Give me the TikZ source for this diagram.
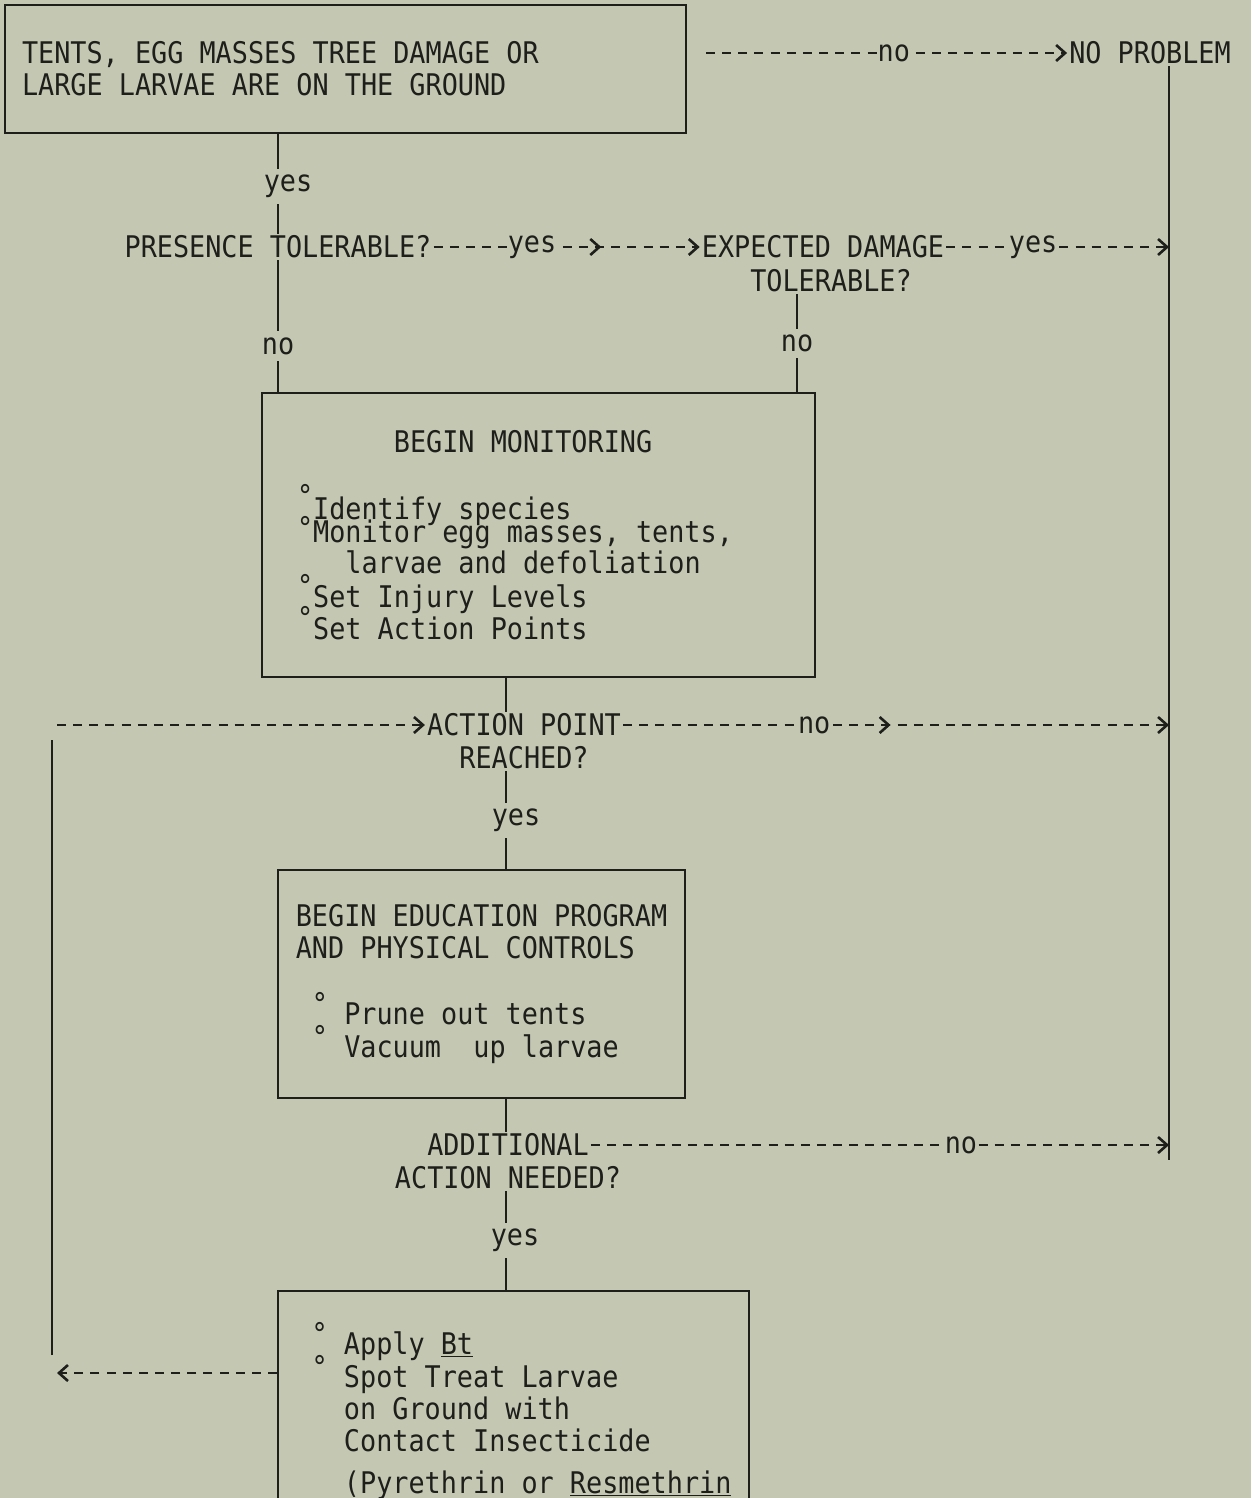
\documentclass[tikz,border=0pt]{standalone}
\usepackage{fontspec}
\setmainfont[FakeStretch=0.9]{DejaVu Sans Mono}
\usetikzlibrary{arrows.meta, positioning, decorations.markings}

\definecolor{paper}{RGB}{196,200,179}
\definecolor{ink}{RGB}{30,30,26}

\newcommand\typefont{\fontsize{29.8}{32}\selectfont}
\newcommand\blt[1]{\smash{\raisebox{#1}{°}}}

\tikzset{
  box/.style={draw=ink, line width=2pt, inner ysep=0pt, font=\typefont},
  dec/.style={inner sep=2pt, font=\typefont},
  lbl/.style={fill=paper, inner xsep=1pt, inner ysep=6pt, font=\typefont},
  link/.style={line width=2pt},
  dashlink/.style={line width=2.6pt, dash pattern=on 9pt off 7.15pt},
  midarrow/.style={postaction={decorate, decoration={markings,
      mark=at position #1 with {\arrow{>}}}}}
}

\begin{document}
\begin{tikzpicture}[x=1pt, y=-1pt, color=ink,
    >={Straight Barb[length=9pt, width=16pt]}]
  \useasboundingbox (0,0) rectangle (1251,1498);
  \clip (0,0) rectangle (1251,1498);
  \fill[paper] (0,0) rectangle (1251,1498);

  % columns of the long vertical lines
  \coordinate (colB) at (797,0);
  \coordinate (colC) at (506,0);
  \coordinate (colR) at (1169,0);
  \coordinate (rbot) at (1169,1160);
  \coordinate (lbot) at (52,1355);
  \coordinate (ltop) at (52,740);
  \coordinate (lin) at (57,725);
  \coordinate (backtip) at (57,1373);

  % Boxes
  \node[box, text width=647pt, inner xsep=17pt, minimum height=128pt,
        align=flush left] (tents) at (345.5,69)
    {TENTS, EGG MASSES TREE DAMAGE OR\\LARGE LARVAE ARE ON THE GROUND};
  \node[box, text width=483pt, inner xsep=35pt, minimum height=284pt,
        align=flush left] (monitor) at (538.5,535)
    {~~~~~~BEGIN MONITORING\\[35pt]
     \blt{13pt}Identify species\\[-9pt]
     \blt{4pt}Monitor egg masses, tents,\\[-1pt]
     ~~~larvae and defoliation\\[2pt]
     \blt{11pt}Set Injury Levels\\
     \blt{11pt}Set Action Points};
  \node[box, minimum width=407pt, minimum height=228pt, align=left]
    (educ) at (481.5,984)
    {BEGIN EDUCATION PROGRAM\\
     AND PHYSICAL CONTROLS\\[34pt]
     ~\blt{10pt}~Prune out tents\\[1pt]
     ~\blt{10pt}~Vacuum~~up larvae};
  \node[box, minimum width=471pt, minimum height=250pt, align=left,
        anchor=north] (treat) at (513.5,1290)
    {~\blt{10pt}~Apply \underline{Bt}\\[1pt]
     ~\blt{10pt}~Spot Treat Larvae\\
     ~~~on Ground with\\
     ~~~Contact Insecticide\\[10pt]
     ~~~(Pyrethrin or \underline{Resmethrin}};

  % Questions
  \node[dec] (noprob) at (1150,53) {NO PROBLEM};
  \node[dec] (presence) at (278,247) {PRESENCE TOLERABLE?};
  \node[dec] (expected) at (823,247) {EXPECTED DAMAGE};
  \node[dec, below=7pt of expected, xshift=8pt] (expected2) {TOLERABLE?};
  \node[dec] (actpt) at (524,725) {ACTION POINT};
  \node[dec, below=6pt of actpt] (actpt2) {REACHED?};
  \node[dec] (addl) at (508,1145) {ADDITIONAL};
  \node[dec, below=6pt of addl] (addl2) {ACTION NEEDED?};

  % Solid connectors
  \draw[link] (tents.south -| presence.north) -- node[lbl, pos=0.53, xshift=10pt] {yes} (presence.north);
  \draw[link] (presence.south) -- node[lbl, pos=0.65] {no} (presence.south |- monitor.north);
  \draw[link] (expected2.south -| colB) -- node[lbl] {no} (monitor.north -| colB);
  \draw[link] (monitor.south -| colC) -- (actpt.north -| colC);
  \draw[link] (actpt2.south -| colC) -- node[lbl, xshift=10pt] {yes} (educ.north -| colC);
  \draw[link] (educ.south -| colC) -- (addl.north -| colC);
  \draw[link] (addl2.south -| colC) -- node[lbl, xshift=9pt] {yes} (treat.north -| colC);
  \draw[link] (noprob.south -| colR) -- (rbot);
  \draw[link] (lbot) -- (ltop);

  % Dashed connectors
  \draw[dashlink, ->] ([xshift=19pt]tents.east |- noprob.west) -- node[lbl, pos=0.52] {no} (noprob.west);
  \draw[dashlink, ->, midarrow=0.63] (presence.east) -- node[lbl, pos=0.37] {yes} (expected.west);
  \draw[dashlink, ->] (expected.east) -- node[lbl, pos=0.39] {yes} (expected.east -| colR);
  \draw[dashlink, ->, midarrow=0.49] (actpt.east) -- node[lbl, pos=0.35] {no} (actpt.east -| colR);
  \draw[dashlink, ->] (addl.east) -- node[lbl, pos=0.64] {no} (addl.east -| colR);
  \draw[dashlink, ->] (treat.west |- backtip) -- (backtip);
  \draw[dashlink, ->] (lin) -- (actpt.west);
\end{tikzpicture}
\end{document}
